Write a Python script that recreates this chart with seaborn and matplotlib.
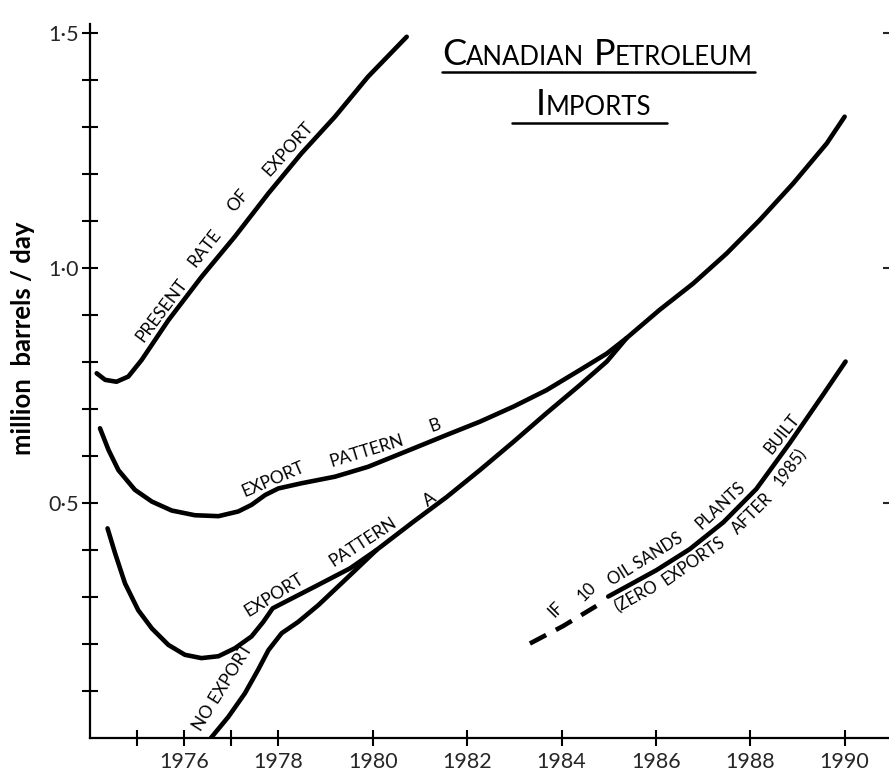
import numpy as np
import matplotlib.pyplot as plt
import seaborn as sns
import pandas as pd

# values (year, million barrels / day)
present_year = [1974.15, 1974.33, 1974.57, 1974.82, 1975.10, 1975.67, 1976.37,
                1977.08, 1977.79, 1978.49, 1979.20, 1979.90, 1980.72]
present_val = [0.776, 0.762, 0.758, 0.769, 0.804, 0.889, 0.981,
               1.067, 1.159, 1.244, 1.322, 1.407, 1.492]

pattern_b_year = [1974.22, 1974.40, 1974.61, 1974.96, 1975.32, 1975.74, 1976.23,
                  1976.73, 1977.15, 1977.43, 1977.72, 1978.00, 1978.49, 1979.20,
                  1979.90, 1980.86, 1981.57, 1982.27, 1982.98, 1983.68, 1984.39,
                  1984.96, 1985.38]
pattern_b_val = [0.659, 0.613, 0.570, 0.528, 0.503, 0.484, 0.474,
                 0.472, 0.482, 0.496, 0.517, 0.531, 0.542, 0.556,
                 0.577, 0.616, 0.645, 0.673, 0.705, 0.740, 0.783,
                 0.818, 0.851]

# pattern A runs on through the shared part up to 1990
pattern_a_year = [1974.38, 1974.54, 1974.75, 1975.03, 1975.32, 1975.67, 1976.02,
                  1976.37, 1976.73, 1977.08, 1977.43, 1977.68, 1977.88, 1978.81,
                  1979.52, 1980.08, 1980.86, 1981.57, 1982.27, 1982.98, 1983.68,
                  1984.39, 1984.96, 1985.38, 1986.08, 1986.79, 1987.50, 1988.20,
                  1988.91, 1989.62, 1990.00]
pattern_a_val = [0.446, 0.393, 0.329, 0.272, 0.233, 0.198, 0.177,
                 0.170, 0.174, 0.191, 0.216, 0.247, 0.276, 0.324,
                 0.361, 0.400, 0.460, 0.513, 0.570, 0.630, 0.691,
                 0.751, 0.801, 0.851, 0.911, 0.967, 1.031, 1.102,
                 1.180, 1.265, 1.322]

no_export_year = [1976.57, 1976.94, 1977.29, 1977.57, 1977.79, 1978.07, 1978.42,
                  1978.85, 1979.41, 1980.08]
no_export_val = [0.0, 0.045, 0.095, 0.145, 0.187, 0.223, 0.247,
                 0.283, 0.336, 0.400]

oil_dash_year = [1983.33, 1984.03, 1984.74]
oil_dash_val = [0.201, 0.238, 0.281]

oil_year = [1984.99, 1985.52, 1986.01, 1986.72, 1987.43, 1988.13, 1988.84,
            1989.54, 1990.02]
oil_val = [0.301, 0.330, 0.357, 0.402, 0.459, 0.530, 0.628,
           0.730, 0.801]

x_ticks = [1976, 1978, 1980, 1982, 1984, 1986, 1988, 1990]
x_tick_labels = ['1976', '1978', '1980', '1982', '1984', '1986', '1988', '1990']
x_minor = [1975, 1977]
y_ticks = [0.5, 1.0, 1.5]
y_tick_labels = ['0·5', '1·0', '1·5']
y_minor = [0.1, 0.2, 0.3, 0.4, 0.6, 0.7, 0.8, 0.9, 1.1, 1.2, 1.3, 1.4]

sns.set_theme(style='ticks')
plt.rcParams['font.family'] = ['Lato', 'DejaVu Sans']

fig = plt.figure(figsize=(8.89, 7.74), dpi=100)
ax = fig.add_axes([0.1008, 0.0465, 0.8992, 0.923])

series = [
    ('present', present_year, present_val),
    ('b', pattern_b_year, pattern_b_val),
    ('a', pattern_a_year, pattern_a_val),
    ('none', no_export_year, no_export_val),
    ('oil', oil_year, oil_val),
]
for name, xs, ys in series:
    df = pd.DataFrame({'year': xs, 'mbd': ys})
    sns.lineplot(data=df, x='year', y='mbd', ax=ax, color='black', lw=3.3,
                 sort=False, estimator=None, solid_capstyle='round',
                 solid_joinstyle='round')

df = pd.DataFrame({'year': oil_dash_year, 'mbd': oil_dash_val})
sns.lineplot(data=df, x='year', y='mbd', ax=ax, color='black', lw=3.3,
             sort=False, estimator=None)
ax.lines[-1].set_dashes([4.0, 2.4])
ax.lines[-1].set_dash_capstyle('butt')

ax.set_xlim(1974, 1990.94)
ax.set_ylim(0, 1.52)
ax.set_xticks(x_ticks, labels=x_tick_labels)
ax.set_xticks(x_minor, minor=True)
ax.set_yticks(y_ticks, labels=y_tick_labels)
ax.set_yticks(y_minor, minor=True)
ax.tick_params(which='both', direction='inout', length=12, width=1.5, color='black')
ax.tick_params(axis='x', labelsize=15.5, pad=4)
ax.tick_params(axis='y', labelsize=15.5, pad=2)
for s in ['top', 'right']:
    ax.spines[s].set_visible(False)
for s in ['left', 'bottom']:
    ax.spines[s].set_linewidth(1.6)
    ax.spines[s].set_color('black')

ax.set_xlabel('')
ax.set_ylabel('million  barrels / day', fontsize=18.5, fontweight='bold', color='black')
ax.yaxis.set_label_coords(-0.068, 0.56)

# short marks on the right edge
ax2 = ax.twinx()
ax2.set_ylim(0, 1.52)
ax2.set_yticks(y_ticks)
ax2.tick_params(axis='y', direction='in', length=4.5, width=1.5, labelright=False)
for s in ax2.spines.values():
    s.set_visible(False)

# labels set at a fixed spot: text, year, value, angle, size
fixed_labels = [
    ('PRESENT', 1975.14, 0.840, 53, 12.5),
    ('RATE', 1976.25, 1.000, 52, 12.5),
    ('OF', 1977.06, 1.116, 50, 12.5),
    ('EXPORT', 1977.81, 1.194, 48, 12.5),
    ('EXPORT', 1977.29, 0.512, 23, 12.5),
    ('PATTERN', 1979.13, 0.577, 17, 12.5),
    ('B', 1981.25, 0.652, 20, 12.5),
    ('EXPORT', 1977.36, 0.258, 32, 12.5),
    ('PATTERN', 1979.16, 0.364, 33, 12.5),
    ('A', 1981.18, 0.492, 35, 12.5),
    ('NO EXPORT', 1976.37, 0.013, 58, 12.5),
    ('IF', 1983.86, 0.255, 45, 12),
    ('10', 1984.47, 0.290, 45, 12),
]
for txt, x, y, ang, size in fixed_labels:
    ax.text(x, y, txt, rotation=ang, rotation_mode='anchor', ha='left',
            va='baseline', fontsize=size, color='black')

# labels hugging the oil sands curve: text, year on curve, angle, side
oil_labels = [
    ('OIL SANDS', 1985.16, 32, 1),
    ('PLANTS', 1987.08, 43, 1),
    ('BUILT', 1988.58, 51, 1),
    ('(ZERO', 1985.00, 29, -1),
    ('EXPORTS', 1986.00, 35, -1),
    ('AFTER', 1987.45, 45, -1),
    ('1985)', 1988.33, 53, -1),
]
for txt, yr, ang, side in oil_labels:
    yv = np.interp(yr, oil_year, oil_val)
    th = np.radians(ang)
    gap = 5.5 if side > 0 else 4.5
    ax.annotate(txt, (yr, yv), xytext=(-side * gap * np.sin(th), side * gap * np.cos(th)),
                textcoords='offset points', rotation=ang, rotation_mode='anchor',
                ha='left', va='baseline' if side > 0 else 'top', fontsize=12,
                color='black')

# title in small capitals, underlined
fig.canvas.draw()
rend = fig.canvas.get_renderer()
W = fig.bbox.width


def small_caps(parts, xc, yb):
    items = []
    for s, size, gap in parts:
        items.append((fig.text(0, yb, s, fontsize=size, ha='left', va='baseline',
                               color='black'), gap))
    widths = [t.get_window_extent(rend).width + g for t, g in items]
    x = xc * W - sum(widths) / 2
    for (t, g), w in zip(items, widths):
        t.set_x(x / W)
        x += w


small_caps([('C', 26, 0), ('ANADIAN', 18.5, 9), ('P', 26, 0), ('ETROLEUM', 18.5, 0)], 0.672, 0.916)
small_caps([('I', 26, 0), ('MPORTS', 18.5, 0)], 0.668, 0.851)
fig.add_artist(plt.Line2D([0.497, 0.849], [0.907, 0.907], transform=fig.transFigure,
                          color='black', lw=1.8))
fig.add_artist(plt.Line2D([0.576, 0.750], [0.841, 0.841], transform=fig.transFigure,
                          color='black', lw=1.8))

plt.savefig('out.png', dpi=100)
